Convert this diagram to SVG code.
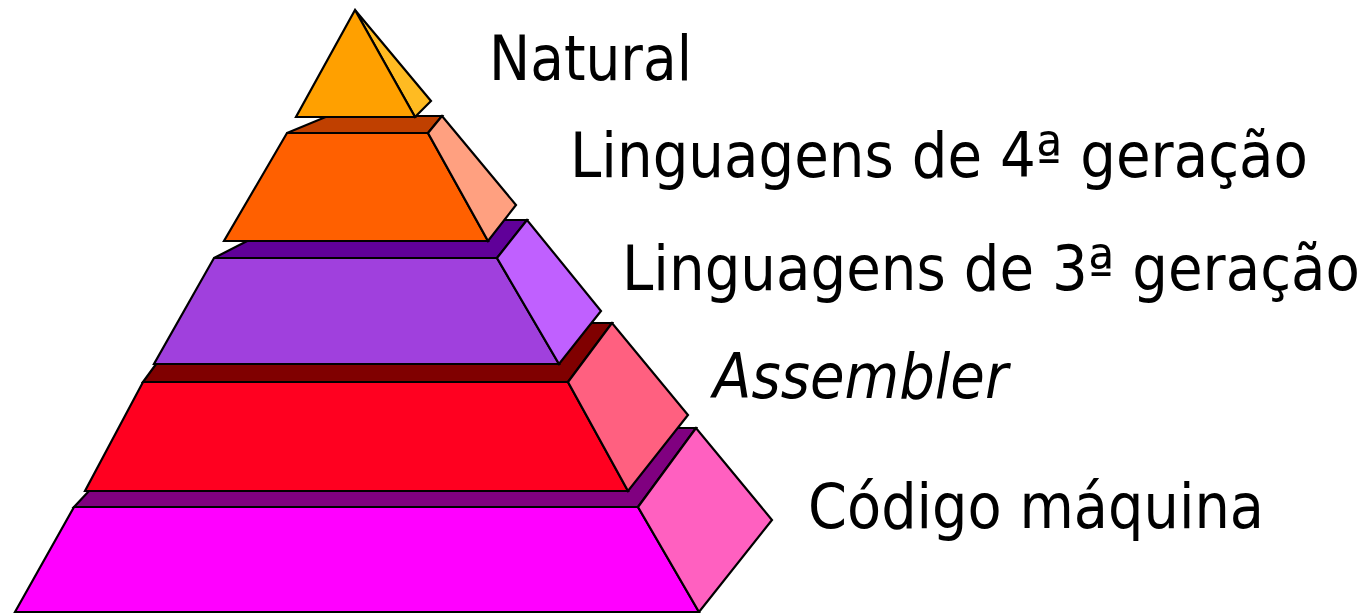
<svg xmlns="http://www.w3.org/2000/svg" width="1368" height="613" viewBox="0 0 1368 613">
<style>
.s{stroke:#000;stroke-width:2.2;stroke-linejoin:miter}
.t{font-family:"DejaVu Sans","Liberation Sans",sans-serif;font-size:62px;fill:#000}
</style>
<rect width="1368" height="613" fill="#fff"/>
<g id="layer-codigo-maquina">
<polygon class="s" fill="#800080" points="74,507 148,428 696,428 638,507"/>
<polygon class="s" fill="#FF00FF" points="74,507 638,507 699,612 15,612"/>
<polygon class="s" fill="#FF60C0" points="638,507 696,428 772,520 699,612"/>
</g>
<g id="layer-assembler">
<polygon class="s" fill="#800000" points="143,382 186,323 612,323 568,382"/>
<polygon class="s" fill="#FF0020" points="143,382 568,382 628,491 85,491"/>
<polygon class="s" fill="#FF6080" points="568,382 612,323 688,415 628,491"/>
</g>
<g id="layer-3geracao">
<polygon class="s" fill="#600099" points="214,258 288,220 527,220 497,258"/>
<polygon class="s" fill="#A040DD" points="214,258 497,258 559,364 154,364"/>
<polygon class="s" fill="#C060FF" points="497,258 527,220 601,311 559,364"/>
</g>
<g id="layer-4geracao">
<polygon class="s" fill="#C04000" points="287,133 328,116 442,116 428,133"/>
<polygon class="s" fill="#FF6000" points="287,133 428,133 488,241 224,241"/>
<polygon class="s" fill="#FFA080" points="428,133 442,116 516,205 488,241"/>
</g>
<g id="layer-natural">
<polygon class="s" fill="#FFBB22" points="355,10 431,101 415,117"/>
<polygon class="s" fill="#FFA000" points="355,10 415,117 296,117"/>
</g>
<g id="labels">
<text class="t" x="489" y="80" textLength="203" lengthAdjust="spacingAndGlyphs">Natural</text>
<text class="t" x="570" y="177" textLength="738" lengthAdjust="spacingAndGlyphs">Linguagens de 4ª geração</text>
<text class="t" x="622" y="290" textLength="738" lengthAdjust="spacingAndGlyphs">Linguagens de 3ª geração</text>
<text class="t" x="713" y="398" font-style="italic" textLength="295" lengthAdjust="spacingAndGlyphs">Assembler</text>
<text class="t" x="808" y="528" textLength="456" lengthAdjust="spacingAndGlyphs">Código máquina</text>
</g>
</svg>
